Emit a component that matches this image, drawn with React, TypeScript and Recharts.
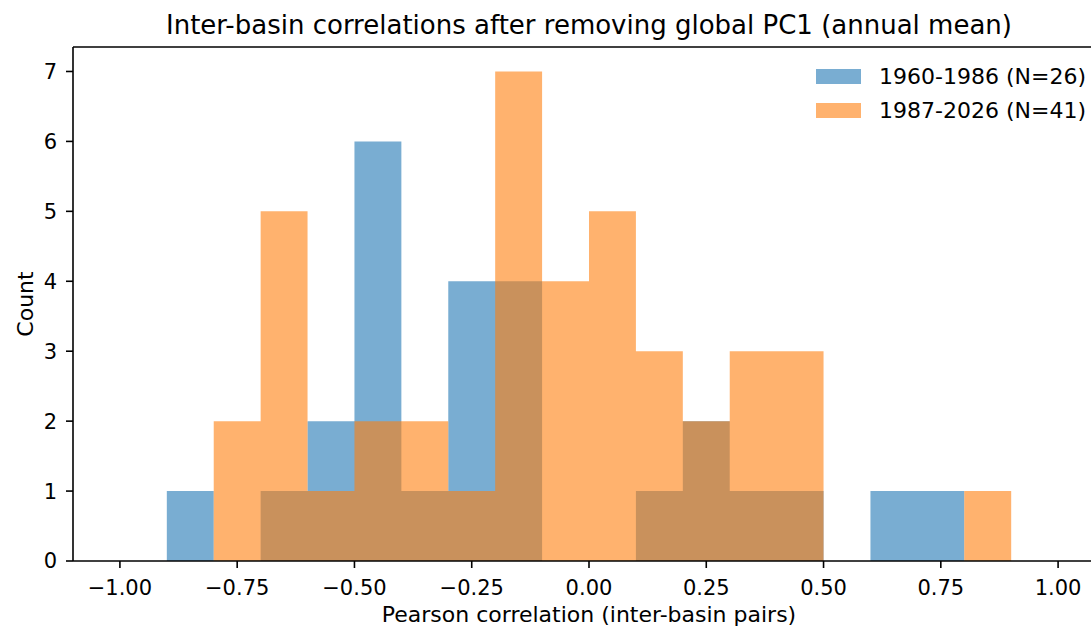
import { Area, AreaChart, Label, ReferenceLine, XAxis, YAxis } from "recharts";

// Histogram of inter-basin correlations, two periods, 0.1-wide bins on [-1, 1].
// Drawn as stepped areas so the two semi-transparent series overlap like
// matplotlib's hist(alpha=0.6).

const BIN_EDGES = [
  -1.0, -0.9, -0.8, -0.7, -0.6, -0.5, -0.4, -0.3, -0.2, -0.1, 0.0,
  0.1, 0.2, 0.3, 0.4, 0.5, 0.6, 0.7, 0.8, 0.9, 1.0,
];

// counts per bin (value at edge i = count in [edge i, edge i+1]); last edge closes at 0
const EARLY_COUNTS = [0, 1, 0, 1, 2, 6, 1, 4, 4, 0, 0, 1, 2, 1, 1, 0, 1, 1, 0, 0, 0];
const LATE_COUNTS = [0, 0, 2, 5, 1, 2, 2, 1, 7, 4, 5, 3, 2, 3, 3, 0, 0, 0, 1, 0, 0];

const SERIES = [
  { key: "early", label: "1960-1986 (N=26)", color: "#1f77b4" },
  { key: "late", label: "1987-2026 (N=41)", color: "#ff7f0e" },
];

const X_TICKS = [-1, -0.75, -0.5, -0.25, 0, 0.25, 0.5, 0.75, 1];
const Y_TICKS = [0, 1, 2, 3, 4, 5, 6, 7];

const TITLE = "Inter-basin correlations after removing global PC1 (annual mean)";
const X_LABEL = "Pearson correlation (inter-basin pairs)";
const Y_LABEL = "Count";

const data = BIN_EDGES.map((x, i) => ({ x, early: EARLY_COUNTS[i], late: LATE_COUNTS[i] }));

const FONT = "'DejaVu Sans', sans-serif";
const FS = 21;
const LABEL_FS = 22;
const TICK_STYLE = { fill: "#000", fontSize: FS };
const AXIS = { stroke: "#000", strokeWidth: 1.6 };

const fmtX = (v: number) => (v < 0 ? "\u2212" + Math.abs(v).toFixed(2) : v.toFixed(2));

// legend sits outside the chart so it doesn't eat plot height
function LegendBox() {
  return (
    <div
      style={{
        position: "absolute",
        left: 816,
        top: 60,
        fontFamily: FONT,
        fontSize: LABEL_FS,
        color: "#000",
      }}
    >
      {SERIES.map((s) => (
        <div key={s.key} style={{ display: "flex", alignItems: "center", height: 33.5 }}>
          <span
            style={{
              width: 45,
              height: 15,
              background: s.color,
              opacity: 0.6,
              marginRight: 18,
              display: "inline-block",
            }}
          />
          <span style={{ whiteSpace: "nowrap" }}>{s.label}</span>
        </div>
      ))}
    </div>
  );
}

export default function App() {
  return (
    <div
      style={{
        position: "absolute",
        left: 0,
        top: 0,
        width: 1091,
        height: 628,
        overflow: "hidden",
        background: "#fff",
        fontFamily: FONT,
      }}
    >
      <div style={{ position: "absolute", left: 0, top: 0 }}>
        <AreaChart width={1105} height={628} data={data} margin={{ top: 47, right: 0, bottom: 3, left: 0 }}>
          <XAxis
            dataKey="x"
            type="number"
            domain={[-1.1, 1.1]}
            allowDataOverflow
            ticks={X_TICKS}
            tickFormatter={fmtX}
            tick={TICK_STYLE}
            tickSize={7}
            tickMargin={12}
            axisLine={AXIS}
            tickLine={AXIS}
            height={64}
            interval={0}
          >
            <Label value={X_LABEL} position="insideBottom" offset={3} fill="#000" fontSize={LABEL_FS} />
          </XAxis>
          <YAxis
            type="number"
            domain={[0, 7.35]}
            allowDataOverflow
            ticks={Y_TICKS}
            tick={TICK_STYLE}
            tickSize={7}
            tickMargin={9}
            axisLine={AXIS}
            tickLine={AXIS}
            width={73}
            interval={0}
          >
            <Label
              content={({ viewBox }: any) => {
                const cx = viewBox.x + 25;
                const cy = viewBox.y + viewBox.height / 2;
                return (
                  <text
                    x={cx}
                    y={cy}
                    transform={`rotate(-90, ${cx}, ${cy})`}
                    textAnchor="middle"
                    dominantBaseline="central"
                    fontSize={LABEL_FS}
                    fill="#000"
                  >
                    {Y_LABEL}
                  </text>
                );
              }}
            />
          </YAxis>
          {SERIES.map((s) => (
            <Area
              key={s.key}
              type="stepAfter"
              dataKey={s.key}
              name={s.label}
              stroke="none"
              fill={s.color}
              fillOpacity={0.6}
              baseValue={0}
              dot={false}
              activeDot={false}
              isAnimationActive={false}
            />
          ))}
          <ReferenceLine y={7.35} stroke="#000" strokeWidth={1.6} ifOverflow="extendDomain" />
          <ReferenceLine x={1.1} stroke="#000" strokeWidth={1.6} ifOverflow="extendDomain" />
        </AreaChart>
      </div>
      <svg width={1091} height={47} style={{ position: "absolute", left: 0, top: 0 }}>
        <text x={589} y={34} textAnchor="middle" fontSize={26} fill="#000" fontFamily={FONT}>
          {TITLE}
        </text>
      </svg>
      <LegendBox />
    </div>
  );
}
